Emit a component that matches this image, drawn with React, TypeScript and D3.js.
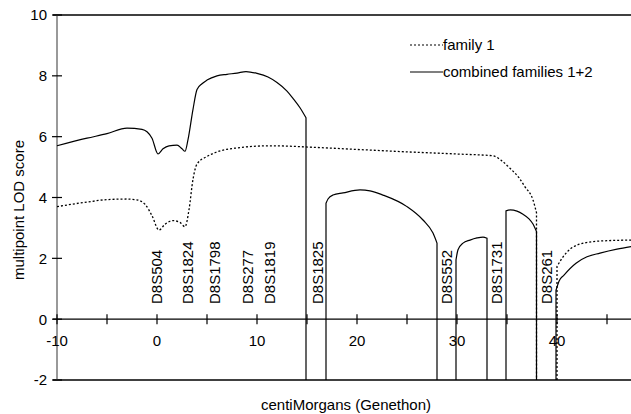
import React, { useEffect, useRef } from "react";
import * as d3 from "d3";

// combined families 1+2, one array per continuous piece (the curve falls to the floor between pieces)
const combinedA = [
  [-10, 5.7], [-7, 5.95], [-5, 6.1], [-3, 6.28], [-1.5, 6.24], [-1, 6.16], [-0.5, 5.95],
  [0.1, 5.43], [0.6, 5.6], [1.2, 5.7], [2, 5.72], [2.5, 5.6], [2.8, 5.52], [3.1, 5.9],
  [3.6, 6.9], [4.0, 7.55], [4.5, 7.74], [5, 7.86], [6, 8.0], [7, 8.05], [8, 8.09],
  [8.9, 8.14], [10, 8.08], [11.1, 7.96], [12, 7.78], [13, 7.5], [13.6, 7.26], [14.3, 6.95], [14.9, 6.62],
];
const combinedB = [
  [16.9, 3.81], [17.1, 3.95], [17.6, 4.08], [18.6, 4.15], [20.3, 4.25], [21.3, 4.22],
  [22.6, 4.08], [25, 3.7], [26.6, 3.26], [27.6, 2.83], [28.0, 2.5],
];
const combinedC = [
  [29.9, 1.95], [30.1, 2.28], [30.6, 2.5], [31.3, 2.6], [32, 2.67], [32.6, 2.7], [33.0, 2.66],
];
const combinedD = [
  [34.9, 3.56], [35.3, 3.59], [36, 3.55], [36.6, 3.45], [37.2, 3.3], [37.6, 3.13], [37.95, 2.88],
];
const combinedE = [
  [39.9, 0.95], [40.2, 1.25], [40.7, 1.45], [41.9, 1.84], [43, 2.05], [44.3, 2.17], [46, 2.3], [47.5, 2.39],
];

// family 1
const family1A = [
  [-10, 3.7], [-7, 3.85], [-5, 3.93], [-3, 3.95], [-2, 3.92], [-1.2, 3.78], [-0.5, 3.4],
  [0.2, 2.93], [0.8, 3.12], [1.6, 3.24], [2.3, 3.18], [2.8, 3.04], [3.2, 3.6], [3.6, 4.6],
  [4.0, 5.1], [5, 5.35], [6, 5.5], [8, 5.63], [11.3, 5.7], [16.3, 5.64], [20, 5.58],
  [25, 5.5], [30, 5.43], [33.6, 5.37], [34.5, 5.2], [35.3, 4.96], [36.2, 4.65],
  [36.8, 4.35], [37.6, 3.92], [37.95, 3.5],
];
const family1B = [
  [40.0, 1.73], [40.4, 1.95], [41.7, 2.39], [43.6, 2.55], [45, 2.58], [47.5, 2.6],
];

// markers
const markerNames = ["D8S504", "D8S1824", "D8S1798", "D8S277", "D8S1819", "D8S1825", "D8S552", "D8S1731", "D8S261"];
const markerPos = [0, 3.1, 5.8, 9.1, 11.3, 16.1, 29, 34, 39];

const xTicks = [-10, -5, 0, 5, 10, 15, 20, 25, 30, 35, 40, 45];
const xLabels = [-10, 0, 10, 20, 30, 40];
const yTicks = [-2, 0, 2, 4, 6, 8, 10];

const font = "'Liberation Sans', Arial, sans-serif";

export default function App() {
  const ref = useRef<SVGSVGElement>(null);

  useEffect(() => {
    const svg = d3.select(ref.current);
    svg.selectAll("*").remove();

    const x = d3.scaleLinear().domain([-10, 47.5]).range([57, 632]);
    const y = d3.scaleLinear().domain([-2, 10]).range([380, 15]);
    const floor = y(-2);

    const line = d3.line<number[]>()
      .x(d => x(d[0]))
      .y(d => y(d[1]))
      .curve(d3.curveMonotoneX);

    // path with optional vertical drops to the floor at start / end
    const seg = (pts: number[][], dropStart: boolean, dropEnd: boolean) => {
      let p = line(pts) || "";
      if (dropStart) p = `M${x(pts[0][0])},${floor}L` + p.slice(1);
      if (dropEnd) p += `L${x(pts[pts.length - 1][0])},${floor}`;
      return p;
    };

    const g = svg.append("g");

    // frame
    g.append("line").attr("x1", 53).attr("x2", 632).attr("y1", y(10)).attr("y2", y(10))
      .attr("stroke", "#000").attr("stroke-width", 1.3);
    g.append("line").attr("x1", 53).attr("x2", 632).attr("y1", y(-2)).attr("y2", y(-2))
      .attr("stroke", "#000").attr("stroke-width", 1.3);
    g.append("line").attr("x1", x(-10)).attr("x2", x(-10)).attr("y1", y(10)).attr("y2", y(-2))
      .attr("stroke", "#555").attr("stroke-width", 1.2);

    // x axis at 0
    g.append("line").attr("x1", 53).attr("x2", 632).attr("y1", y(0)).attr("y2", y(0))
      .attr("stroke", "#000").attr("stroke-width", 1.2);
    g.selectAll(".xt").data(xTicks).join("line").attr("class", "xt")
      .attr("x1", d => x(d)).attr("x2", d => x(d))
      .attr("y1", y(0) - 5).attr("y2", y(0) + 5)
      .attr("stroke", "#000").attr("stroke-width", 1.2);
    g.selectAll(".xl").data(xLabels).join("text").attr("class", "xl")
      .attr("x", d => x(d)).attr("y", y(0) + 27)
      .attr("text-anchor", "middle")
      .style("font-family", font).style("font-size", "15px")
      .text(d => d);

    // y ticks
    g.selectAll(".yt").data(yTicks).join("line").attr("class", "yt")
      .attr("x1", x(-10) - 5).attr("x2", x(-10) + 5)
      .attr("y1", d => y(d)).attr("y2", d => y(d))
      .attr("stroke", "#000").attr("stroke-width", 1.2);
    g.selectAll(".yl").data(yTicks).join("text").attr("class", "yl")
      .attr("x", 47).attr("y", d => y(d)).attr("dy", "0.36em")
      .attr("text-anchor", "end")
      .style("font-family", font).style("font-size", "15px")
      .text(d => d);

    // axis titles
    g.append("text").attr("transform", "translate(19,210) rotate(-90)")
      .attr("text-anchor", "middle").attr("dy", "0.36em")
      .style("font-family", font).style("font-size", "15px")
      .text("multipoint LOD score");
    g.append("text").attr("x", 346).attr("y", 410)
      .attr("text-anchor", "middle")
      .style("font-family", font).style("font-size", "15px")
      .text("centiMorgans (Genethon)");

    // marker labels
    g.selectAll(".mk").data(markerNames).join("text").attr("class", "mk")
      .attr("transform", (d, i) => `translate(${x(markerPos[i])},304) rotate(-90)`)
      .attr("dy", "0.36em")
      .style("font-family", font).style("font-size", "15px")
      .text(d => d);

    // family 1 (dotted)
    const fam = [
      seg(family1A, false, true),
      seg(family1B, true, false),
    ];
    g.selectAll(".fam").data(fam).join("path").attr("class", "fam")
      .attr("d", d => d).attr("fill", "none")
      .attr("stroke", "#000").attr("stroke-width", 1.3)
      .attr("stroke-dasharray", "2,2");

    // combined (solid)
    const comb = [
      seg(combinedA, false, true),
      seg(combinedB, true, true),
      seg(combinedC, true, true),
      seg(combinedD, true, true),
      seg(combinedE, true, false),
    ];
    g.selectAll(".comb").data(comb).join("path").attr("class", "comb")
      .attr("d", d => d).attr("fill", "none")
      .attr("stroke", "#000").attr("stroke-width", 1.2);

    // legend
    const legend = [
      { label: "family 1", dash: "2,2", ly: 45 },
      { label: "combined families 1+2", dash: null, ly: 72 },
    ];
    const lg = g.selectAll(".lg").data(legend).join("g").attr("class", "lg");
    lg.append("line").attr("x1", 410).attr("x2", 443)
      .attr("y1", d => d.ly).attr("y2", d => d.ly)
      .attr("stroke", "#000").attr("stroke-width", 1.2)
      .attr("stroke-dasharray", d => d.dash);
    lg.append("text").attr("x", 443).attr("y", d => d.ly).attr("dy", "0.36em")
      .style("font-family", font).style("font-size", "15px")
      .text(d => d.label);
  }, []);

  return (
    <svg ref={ref} width={631} height={414}
      style={{ position: "absolute", left: 0, top: 0, background: "#fff" }} />
  );
}
